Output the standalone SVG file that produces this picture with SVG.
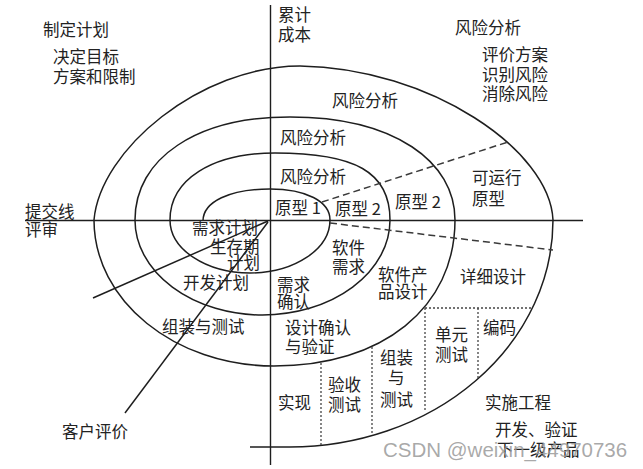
<svg xmlns="http://www.w3.org/2000/svg" width="643" height="469" viewBox="0 0 643 469">
<style>
.ln{stroke:#1e1e1e;stroke-width:1.5;fill:none}
.ax{stroke:#1e1e1e;stroke-width:1.4;fill:none}
.dash{stroke:#3a3a3a;stroke-width:1.5;fill:none;stroke-dasharray:7 4}
.dot{stroke:#444;stroke-width:1.3;fill:none;stroke-dasharray:2 2}
.t{font-family:"Noto Sans CJK SC","Noto Sans",sans-serif;font-size:16.5px;fill:#222}
.wm{font-family:"Liberation Sans",Arial,sans-serif;font-size:20.5px;fill:#9a9a9a;fill-opacity:0.85}
</style>
<rect width="643" height="469" fill="#ffffff"/>
<g id="connectors">
  <path id="axis-h" class="ax" d="M25 220.5 H583"/>
  <path id="axis-v" class="ax" d="M270.5 5 V465"/>
  <path id="spiral" class="ln" d="M203 221 C203 201.8 229.8 189 270 189 C306 189 330 201.4 330 220 A80 53 0 0 1 170 220 C170 179.8 212 153 275 153 C355 153 390 172 390 220 A127.5 95 0 0 1 135 220 C135 158 197 117 290 117 C395 117 455 162 455 220 C455 307.6 382.6 366 274 366 C174.6 366 94 300.6 94 220 C100 150 200 66 300 66 C430 68 550 150 553 220 A263 227 0 0 1 290 447 L250 447"/>
  <path id="dash-upper" class="dash" d="M322 202 L508 142"/>
  <path id="dash-lower" class="dash" d="M330 223 L553 250"/>
  <path id="dot-h" class="dot" d="M425 308 H532"/>
  <path id="dot-v1" class="dot" d="M321 363 V445"/>
  <path id="dot-v2" class="dot" d="M372 347 V433"/>
  <path id="dot-v3" class="dot" d="M425 308 V412"/>
  <path id="dot-v4" class="dot" d="M478 308 V378"/>
  <path id="line-review" class="ln" d="M93 298 L268 221"/>
  <path id="line-customer" class="ln" d="M125 413 L268 222"/>
</g>
<g id="quadrant-plan">
  <text class="t" x="43" y="36">制定计划</text>
  <text class="t" x="53" y="63">决定目标<tspan x="53" dy="20">方案和限制</tspan></text>
</g>
<g id="cost-label">
  <text class="t" x="278" y="21">累计<tspan x="278" dy="20">成本</tspan></text>
</g>
<g id="quadrant-risk">
  <text class="t" x="455" y="34">风险分析</text>
  <text class="t" x="482" y="61">评价方案<tspan x="482" dy="20">识别风险</tspan><tspan x="482" dy="19">消除风险</tspan></text>
</g>
<g id="review-label">
  <text class="t" x="25" y="218">提交线<tspan x="25" dy="18">评审</tspan></text>
</g>
<g id="risk-4"><text class="t" x="332" y="107">风险分析</text></g>
<g id="risk-3"><text class="t" x="280" y="144">风险分析</text></g>
<g id="risk-2"><text class="t" x="280" y="183">风险分析</text></g>
<g id="proto-1"><text class="t" x="275" y="214">原型 1</text></g>
<g id="proto-2a"><text class="t" x="335" y="215">原型 2</text></g>
<g id="proto-2b"><text class="t" x="395" y="208">原型 2</text></g>
<g id="proto-run">
  <text class="t" x="472" y="184">可运行<tspan x="472" dy="21">原型</tspan></text>
</g>
<g id="req-plan">
  <text class="t" x="192" y="234">需求计划<tspan x="210" dy="19">生存期</tspan><tspan x="227" dy="16">计划</tspan></text>
</g>
<g id="dev-plan"><text class="t" x="183" y="289">开发计划</text></g>
<g id="integ-plan"><text class="t" x="162" y="333">组装与测试</text></g>
<g id="req-confirm">
  <text class="t" x="277" y="291">需求<tspan x="277" dy="17">确认</tspan></text>
</g>
<g id="sw-req">
  <text class="t" x="332" y="254">软件<tspan x="332" dy="19">需求</tspan></text>
</g>
<g id="sw-design">
  <text class="t" x="378" y="281">软件产<tspan x="378" dy="17">品设计</tspan></text>
</g>
<g id="detail-design"><text class="t" x="460" y="283">详细设计</text></g>
<g id="design-verify">
  <text class="t" x="285" y="334">设计确认<tspan x="285" dy="19">与验证</tspan></text>
</g>
<g id="implement"><text class="t" x="278" y="409">实现</text></g>
<g id="accept-test">
  <text class="t" x="328" y="391">验收<tspan x="328" dy="20">测试</tspan></text>
</g>
<g id="integ-test">
  <text class="t" x="380" y="364">组装<tspan x="388" dy="20">与</tspan><tspan x="380" dy="22">测试</tspan></text>
</g>
<g id="unit-test">
  <text class="t" x="435" y="341">单元<tspan x="435" dy="20">测试</tspan></text>
</g>
<g id="coding"><text class="t" x="483" y="334">编码</text></g>
<g id="quadrant-eng">
  <text class="t" x="485" y="409">实施工程</text>
  <text class="t" x="495" y="436">开发、验证<tspan x="497" dy="20">下一级产品</tspan></text>
</g>
<g id="customer"><text class="t" x="62" y="438">客户评价</text></g>
<text class="wm" x="383" y="457">CSDN @weixin_44970736</text>
</svg>
